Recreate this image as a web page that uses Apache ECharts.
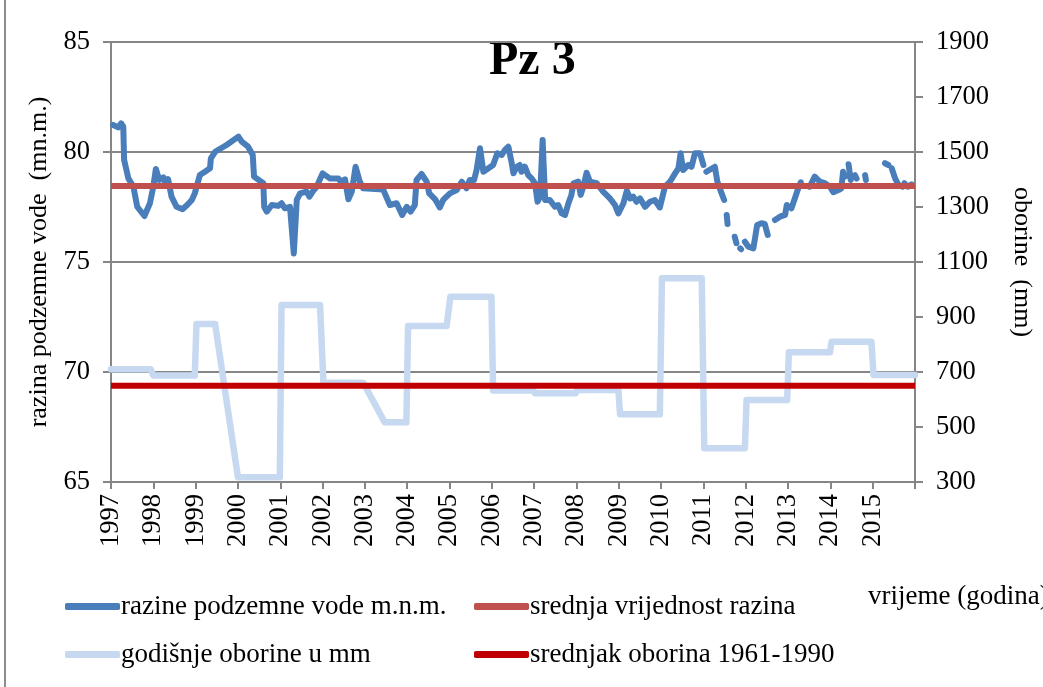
<!DOCTYPE html>
<html>
<head>
<meta charset="utf-8">
<script src="https://cdn.jsdelivr.net/npm/echarts@6/dist/echarts.min.js"></script>
<style>
  html, body { margin: 0; padding: 0; background: #fff; }
  #chart { width: 1043px; height: 687px; }
</style>
</head>
<body>
<div id="chart"></div>
<script>
// Groundwater level at piezometer Pz 3 (m a.s.l.); null marks missing measurements
const levelYears = [
  1997.05, 1997.17, 1997.24, 1997.29, 1997.31, 1997.41, 1997.53, 1997.62, 1997.79, 1997.92,
  1998.00, 1998.06, 1998.14, 1998.24, 1998.28, 1998.35, 1998.43, 1998.55, 1998.69, 1998.80,
  1998.91, 1998.98, 1999.02, 1999.10, 1999.22, 1999.34, 1999.36, 1999.46, 1999.73, 2000.01,
  2000.09, 2000.24, 2000.35, 2000.38, 2000.60, 2000.62, 2000.68, 2000.80, 2000.95, 2001.03,
  2001.11, 2001.23, 2001.32, 2001.39, 2001.47, 2001.62, 2001.69, 2001.78, 2001.86, 2002.00,
  2002.17, 2002.37, 2002.43, 2002.53, 2002.61, 2002.69, 2002.78, 2002.88, 2002.96, 2003.43,
  2003.59, 2003.75, 2003.88, 2003.99, 2004.08, 2004.18, 2004.22, 2004.34, 2004.46, 2004.52,
  2004.66, 2004.77, 2004.85, 2005.01, 2005.17, 2005.29, 2005.40, 2005.48, 2005.58, 2005.64,
  2005.72, 2005.80, 2005.92, 2006.03, 2006.13, 2006.23, 2006.31, 2006.39, 2006.47, 2006.51,
  2006.59, 2006.66, 2006.70, 2006.78, 2006.86, 2006.94, 2007.02, 2007.08, 2007.14, 2007.20,
  2007.26, 2007.37, 2007.49, 2007.57, 2007.65, 2007.73, 2007.81, 2007.88, 2007.93, 2008.04,
  2008.10, 2008.16, 2008.24, 2008.32, 2008.48, 2008.63, 2008.79, 2008.91, 2008.99, 2009.11,
  2009.19, 2009.27, 2009.34, 2009.42, 2009.50, 2009.62, 2009.74, 2009.85, 2009.97, 2010.09,
  2010.21, 2010.33, 2010.41, 2010.46, 2010.52, 2010.64, 2010.72, 2010.80, 2010.92, 2011.00,
  2011.03, 2011.07, 2011.27, 2011.33, 2011.43, 2011.49, 2011.52, 2011.55, 2011.57, 2011.65,
  2011.74, 2011.78, 2011.83, 2011.87, 2011.89, 2011.93, 2011.98, 2012.06, 2012.18, 2012.27,
  2012.37, 2012.45, 2012.52, 2012.60, 2012.69, 2012.81, 2012.93, 2012.97, 2013.02, 2013.08,
  2013.16, 2013.24, 2013.30, 2013.40, 2013.51, 2013.63, 2013.75, 2013.87, 2013.99, 2014.07,
  2014.19, 2014.26, 2014.30, 2014.34, 2014.38, 2014.43, 2014.48, 2014.53, 2014.58, 2014.62,
  2014.72, 2014.82, 2014.84, 2015.05, 2015.29, 2015.37, 2015.41, 2015.45, 2015.53, 2015.61,
  2015.71, 2015.75, 2015.83, 2015.92
];
const levelValues = [
  81.23, 81.12, 81.30, 81.15, 79.64, 78.80, 78.42, 77.51, 77.09, 77.67,
  78.42, 79.23, 78.73, 78.85, 78.58, 78.76, 77.97, 77.51, 77.40, 77.59,
  77.82, 78.12, 78.20, 78.95, 79.10, 79.26, 79.71, 80.01, 80.32, 80.70,
  80.47, 80.24, 79.86, 78.88, 78.58, 77.51, 77.29, 77.59, 77.55, 77.67,
  77.44, 77.51, 75.39, 77.82, 78.12, 78.20, 77.97, 78.24, 78.42, 79.03,
  78.80, 78.80, 78.65, 78.76, 77.85, 78.20, 79.33, 78.65, 78.35, 78.30,
  77.59, 77.67, 77.14, 77.51, 77.29, 77.59, 78.73, 79.00, 78.65, 78.12,
  77.85, 77.48, 77.82, 78.12, 78.27, 78.65, 78.35, 78.73, 78.73, 79.18,
  80.17, 79.10, 79.26, 79.41, 79.94, 79.86, 80.09, 80.24, 79.49, 79.03,
  79.33, 79.41, 79.10, 79.33, 78.95, 78.80, 78.58, 77.74, 77.97, 80.55,
  77.82, 77.82, 77.51, 77.59, 77.21, 77.14, 77.67, 78.05, 78.58, 78.65,
  78.05, 78.42, 79.06, 78.65, 78.58, 78.20, 77.89, 77.59, 77.21, 77.67,
  78.24, 77.89, 77.97, 77.74, 77.89, 77.51, 77.74, 77.82, 77.48, 78.42,
  78.65, 79.03, 79.26, 79.94, 79.18, 79.41, 79.33, 79.94, 79.94, 79.41,
  null,  79.10, 79.33, 78.65, 78.12, 77.82, null,  77.14, 76.73, null,
  76.15, 75.85, null,  75.62, 75.58, null,  75.92, 75.70, 75.62, 76.68,
  76.76, 76.73, 76.23, null,  76.91, 77.06, 77.14, 77.59, null,  77.44,
  77.89, 78.35, 78.62, null,  78.42, 78.88, 78.65, 78.58, 78.42, 78.17,
  78.27, 78.35, 79.10, 78.88, null,  79.44, 78.73, null,  78.95, 78.79,
  null,  78.95, 78.73, null,  79.49, 79.41, null,  79.26, 78.80, 78.50,
  78.42, 78.58, 78.42, 78.53
];

// Annual precipitation (mm), drawn as a stepped line across each year
const rainYears = [
  1997.00, 1997.94, 1998.00, 1998.98, 1999.02, 1999.46, 2000.00, 2000.99, 2001.03, 2001.94,
  2002.02, 2002.96, 2003.47, 2003.98, 2004.02, 2004.93, 2005.02, 2005.99, 2006.03, 2006.98,
  2007.02, 2007.98, 2008.02, 2008.99, 2009.03, 2009.97, 2010.02, 2010.96, 2011.02, 2011.98,
  2012.02, 2012.98, 2013.02, 2013.99, 2014.03, 2014.97, 2015.02, 2016.00
];
const rainValues = [
  710, 710, 687, 687, 875, 875, 317, 317, 944, 944,
  661, 661, 517, 517, 867, 867, 974, 974, 633, 633,
  623, 623, 635, 635, 546, 546, 1041, 1041, 423, 423,
  598, 598, 772, 772, 810, 810, 689, 689
];

const levelMean = 78.45;      // mean groundwater level
const rainMean = 650;         // precipitation normal 1961-1990
const spanYears = [1997, 2016];

const yearLabels = ['1997', '1998', '1999', '2000', '2001', '2002', '2003', '2004', '2005', '2006',
                    '2007', '2008', '2009', '2010', '2011', '2012', '2013', '2014', '2015'];

const seriesNames = [
  'razine podzemne vode m.n.m.',
  'srednja vrijednost razina',
  'godišnje oborine u mm',
  'srednjak oborina 1961-1990'
];
const colors = ['#4a7ebb', '#c0504d', '#c6d9f1', '#c00000'];

const FONT = '"Liberation Serif", "Times New Roman", serif';
const GRAY = '#868686';

const levelData = levelYears.map((x, i) => [x, levelValues[i] === null ? '-' : levelValues[i]]);
const rainData = rainYears.map((x, i) => [x, rainValues[i]]);
const levelMeanData = spanYears.map(x => [x, levelMean]);
const rainMeanData = spanYears.map(x => [x, rainMean]);

const chart = echarts.init(document.getElementById('chart'), null, { renderer: 'canvas' });

function legendAt(name, left, top) {
  return {
    data: [name],
    left: left,
    top: top,
    padding: 0,
    icon: 'roundRect',
    itemWidth: 55,
    itemHeight: 7,
    selectedMode: false,
    textStyle: { fontFamily: FONT, fontSize: 27, color: '#000', padding: [0, 0, 0, -4] }
  };
}

const lineBase = {
  type: 'line',
  showSymbol: false,
  symbol: 'none',
  animation: false,
  connectNulls: false
};

chart.setOption({
  backgroundColor: '#fff',
  animation: false,
  textStyle: { fontFamily: FONT },
  grid: { left: 111, right: 128, top: 42, bottom: 205, containLabel: false },
  xAxis: {
    type: 'value',
    min: 1997,
    max: 2016,
    interval: 1,
    axisLine: { show: true, lineStyle: { color: GRAY, width: 2 } },
    axisTick: { show: true, length: 7, lineStyle: { color: GRAY, width: 2 } },
    splitLine: { show: false },
    axisLabel: {
      rotate: 90,
      margin: 12,
      fontFamily: FONT,
      fontSize: 26.5,
      color: '#000',
      formatter: v => yearLabels[Math.round(v - 1997)] || ''
    }
  },
  yAxis: [
    {
      type: 'value',
      min: 65,
      max: 85,
      interval: 5,
      name: 'razina podzemne vode  (mn.m.)',
      nameLocation: 'middle',
      nameRotate: 90,
      nameGap: 59,
      nameTextStyle: { fontFamily: FONT, fontSize: 26, color: '#000' },
      axisLine: { show: true, lineStyle: { color: GRAY, width: 2 } },
      axisTick: { show: true, length: 8, lineStyle: { color: GRAY, width: 2 } },
      splitLine: { show: true, lineStyle: { color: GRAY, width: 2 } },
      axisLabel: { fontFamily: FONT, fontSize: 26.5, color: '#000', margin: 21, formatter: v => String(v) }
    },
    {
      type: 'value',
      min: 300,
      max: 1900,
      interval: 200,
      position: 'right',
      name: 'oborine  (mm)',
      nameLocation: 'middle',
      nameRotate: -90,
      nameGap: 94,
      nameTextStyle: { fontFamily: FONT, fontSize: 26, color: '#000' },
      axisLine: { show: true, lineStyle: { color: GRAY, width: 2 } },
      axisTick: { show: true, length: 8, lineStyle: { color: GRAY, width: 2 } },
      splitLine: { show: false },
      axisLabel: { fontFamily: FONT, fontSize: 26.5, color: '#000', margin: 21, formatter: v => String(v) }
    }
  ],
  legend: [
    legendAt(seriesNames[0], 65, 593),
    legendAt(seriesNames[1], 474, 593),
    legendAt(seriesNames[2], 65, 641),
    legendAt(seriesNames[3], 474, 641)
  ],
  graphic: [
    {
      type: 'text',
      left: 489,
      top: 38,
      style: { text: 'Pz 3', font: 'bold 48px "Liberation Serif", serif', fill: '#000' }
    },
    {
      type: 'text',
      left: 868,
      top: 583,
      style: { text: 'vrijeme (godina)', font: '27px "Liberation Serif", serif', fill: '#000' }
    },
    {
      type: 'line',
      shape: { x1: 5, y1: 0, x2: 5, y2: 687 },
      style: { stroke: '#8c8c8c', lineWidth: 2 }
    }
  ],
  series: [
    Object.assign({}, lineBase, {
      name: seriesNames[0],
      yAxisIndex: 0,
      data: levelData,
      color: colors[0],
      z: 3,
      lineStyle: { color: colors[0], width: 6, cap: 'round', join: 'round' }
    }),
    Object.assign({}, lineBase, {
      name: seriesNames[1],
      yAxisIndex: 0,
      data: levelMeanData,
      color: colors[1],
      z: 4,
      lineStyle: { color: colors[1], width: 6 }
    }),
    Object.assign({}, lineBase, {
      name: seriesNames[2],
      yAxisIndex: 1,
      data: rainData,
      color: colors[2],
      z: 3,
      lineStyle: { color: colors[2], width: 6.5, cap: 'round', join: 'round' }
    }),
    Object.assign({}, lineBase, {
      name: seriesNames[3],
      yAxisIndex: 1,
      data: rainMeanData,
      color: colors[3],
      z: 4,
      lineStyle: { color: colors[3], width: 6 }
    })
  ]
});
</script>
</body>
</html>
